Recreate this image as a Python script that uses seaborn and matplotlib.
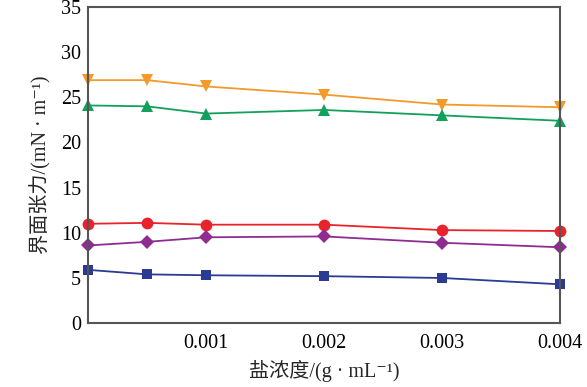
import matplotlib
matplotlib.use("Agg")
import matplotlib.pyplot as plt
import numpy as np
import pandas as pd
import seaborn as sns

# -- data
conc = [0.0, 0.0005, 0.001, 0.002, 0.003, 0.004]
s_orange = [26.9, 26.9, 26.2, 25.3, 24.2, 23.9]
s_green = [24.1, 24.0, 23.2, 23.6, 23.0, 22.4]
s_red = [11.0, 11.1, 10.9, 10.9, 10.3, 10.2]
s_purple = [8.6, 9.0, 9.5, 9.6, 8.9, 8.4]
s_blue = [5.9, 5.4, 5.3, 5.2, 5.0, 4.3]

series_names = ["s1", "s2", "s3", "s4", "s5"]
series_vals = [s_orange, s_green, s_red, s_purple, s_blue]
colors = ["#F39A2B", "#13A05A", "#E8232B", "#8E2C92", "#2B3A92"]
markers = ["v", "^", "o", "D", "s"]
msizes = [8.5, 8.5, 8.5, 7, 7]

x_ticks = [0.001, 0.002, 0.003, 0.004]
x_labels = ["0.001", "0.002", "0.003", "0.004"]
y_ticks = [0, 5, 10, 15, 20, 25, 30, 35]

df = pd.DataFrame({
    "conc": np.tile(conc, len(series_names)),
    "tension": np.concatenate(series_vals),
    "series": np.repeat(series_names, len(conc)),
})

sns.set_theme(style="white")
plt.rcParams["font.family"] = ["Liberation Serif", "Noto Sans CJK SC", "DejaVu Serif"]

fig = plt.figure(figsize=(5.87, 3.87), dpi=100)
ax = fig.add_axes([0.150, 0.165, 0.804, 0.817])

for name, col, mk, ms in zip(series_names, colors, markers, msizes):
    sns.lineplot(
        data=df[df.series == name], x="conc", y="tension",
        color=col, marker=mk, markersize=ms, markeredgewidth=0,
        linewidth=1.3, ax=ax, clip_on=False, legend=False,
    )

ax.set_xlim(0, 0.004)
ax.set_ylim(0, 35)
ax.set_xticks(x_ticks)
ax.set_xticklabels(x_labels)
ax.set_yticks(y_ticks)
ax.tick_params(axis="both", direction="in", length=6, width=1.2,
               labelsize=14.5, colors="#333333", labelcolor="black")
ax.tick_params(axis="x", pad=8)
ax.tick_params(axis="y", pad=5)
for sp in ax.spines.values():
    sp.set_color("#555555")
    sp.set_linewidth(1.5)

ax.set_xlabel("盐浓度/(g · mL⁻¹)", fontsize=14.5, labelpad=5)
ax.set_ylabel("界面张力/(mN · m⁻¹)", fontsize=14.5, labelpad=7)

fig.savefig("out.png", dpi=100)
